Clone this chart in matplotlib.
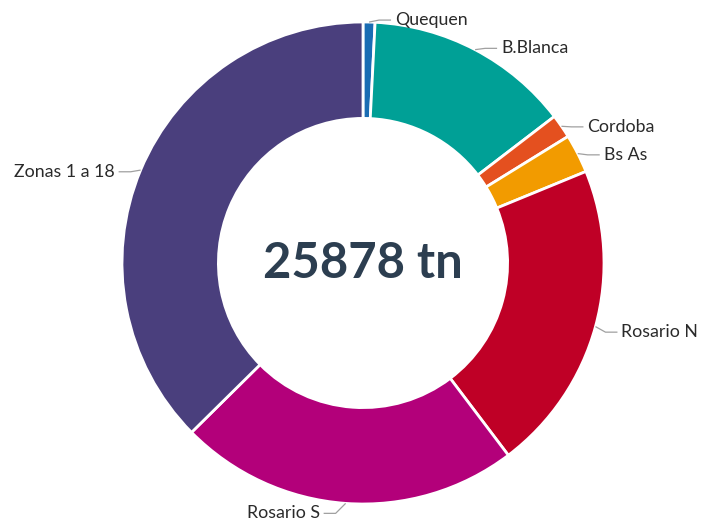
import numpy as np
import matplotlib
matplotlib.use("Agg")
import matplotlib.pyplot as plt

labels = ["Quequen", "B.Blanca", "Cordoba", "Bs As", "Rosario N", "Rosario S", "Zonas 1 a 18"]
values = [207, 3571, 414, 673, 5408, 5926, 9679]
colors = ["#1a6db3", "#00a096", "#e4501f", "#f29b00", "#bf0026", "#b3007a", "#4a3f7d"]
total_text = "25878 tn"

W, H = 703, 529
fig = plt.figure(figsize=(W / 100, H / 100), dpi=100)
ax = fig.add_axes([0, 0, 1, 1])

cx, cy, R = 363, 266, 241
wedges, _ = ax.pie(values, colors=colors, startangle=90, counterclock=False,
                   center=(cx, cy), radius=R, frame=True,
                   wedgeprops=dict(width=R * 0.4, edgecolor="white", linewidth=2))
ax.set_xlim(0, W)
ax.set_ylim(0, H)
ax.set_aspect("equal")
ax.axis("off")

for w, lab in zip(wedges, labels):
    ang = np.deg2rad((w.theta1 + w.theta2) / 2)
    ex, ey = cx + R * np.cos(ang), cy + R * np.sin(ang)
    ly = cy + (R + 6) * np.sin(ang) - 4
    side = 1 if np.cos(ang) >= 0 else -1
    tx = ex + side * 26
    ax.plot([ex, ex + side * 10, tx - side * 4], [ey, ly, ly],
            color="#a0a0a0", lw=0.9, solid_capstyle="butt")
    ax.text(tx, ly, lab, ha="left" if side > 0 else "right", va="center",
            fontsize=12.8, family=["Lato", "DejaVu Sans"], color="#2a2a2a")

ax.text(cx, cy - 1, total_text, ha="center", va="center", fontsize=35.3,
        fontweight="bold", family=["Lato", "DejaVu Sans"], color="#2c3e50")

fig.savefig("out.png", dpi=100)
